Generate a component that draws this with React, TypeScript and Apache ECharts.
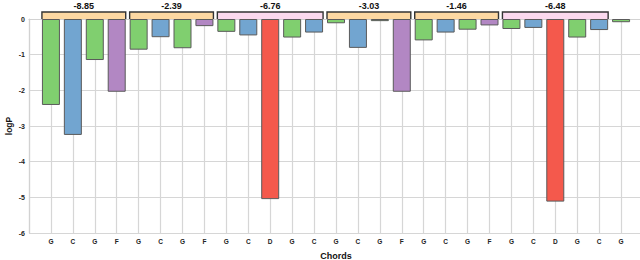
import React, { useEffect, useRef } from "react";
import * as echarts from "echarts";

const chords = ["G","C","G","F","G","C","G","F","G","C","D","G","C","G","C","G","F","G","C","G","F","G","C","D","G","C","G"];
const logP = [-2.41,-3.25,-1.15,-2.04,-0.86,-0.51,-0.82,-0.20,-0.36,-0.46,-5.05,-0.52,-0.38,-0.12,-0.81,-0.06,-2.04,-0.60,-0.38,-0.30,-0.18,-0.28,-0.25,-5.12,-0.52,-0.31,-0.09];
const groupStart = [0, 4, 8, 13, 17, 21];
const groupEnd = [3, 7, 12, 16, 20, 25];
const groupLabels = ["-8.85", "-2.39", "-6.76", "-3.03", "-1.46", "-6.48"];
const groupKind = ["o", "o", "p", "o", "o", "p"];
const yTicks = [0, -1, -2, -3, -4, -5, -6];

const chordColor: Record<string, string> = { G: "#80cf6f", C: "#72a5d0", F: "#b287c3", D: "#f4594c" };
const bracketFill: Record<string, string> = { o: "#fdd8a2", p: "#fbd9ee" };
const FONT = "'Liberation Sans', Arial, Helvetica, sans-serif";
const BAR_W = 18;

export default function App() {
  const ref = useRef<HTMLDivElement>(null);
  useEffect(() => {
    document.body.style.margin = "0";
    const chart = echarts.init(ref.current!, undefined, { renderer: "svg" });
    const cats = ["", ...chords, ""];
    const barData = [null, ...logP.map((v, i) => ({ value: v, itemStyle: { color: chordColor[chords[i]] } })), null];
    const groupData = groupStart.map((s, i) => [s + 1, groupEnd[i] + 1, 0]);
    chart.setOption({
      animation: false,
      grid: { left: 29, right: -3, top: 19, bottom: 27, containLabel: false, outerBoundsMode: "none" },
      xAxis: {
        type: "category",
        data: cats,
        boundaryGap: false,
        name: "Chords",
        nameLocation: "middle",
        nameGap: 18,
        nameMoveOverlap: false,
        nameTextStyle: { fontFamily: FONT, fontWeight: "bold", fontSize: 9, color: "#111" },
        axisLine: { show: true, lineStyle: { color: "#d2d2d2", width: 1.2 } },
        axisTick: { show: false },
        axisLabel: { interval: 0, margin: 5, fontFamily: FONT, fontWeight: "bold", fontSize: 6.5, color: "#222" },
        splitLine: { show: true, interval: 0, lineStyle: { color: "#d6d6d6", width: 1.2 } },
      },
      yAxis: {
        type: "value",
        min: -6,
        max: 0,
        interval: 1,
        name: "logP",
        nameLocation: "middle",
        nameGap: 16,
        nameMoveOverlap: false,
        nameTextStyle: { fontFamily: FONT, fontWeight: "bold", fontSize: 8.5, color: "#111" },
        axisLine: { show: true, lineStyle: { color: "#d2d2d2", width: 1.2 } },
        axisTick: { show: false },
        axisLabel: {
          margin: 4,
          fontFamily: FONT,
          fontWeight: "bold",
          fontSize: 7,
          color: "#222",
          formatter: (v: number) => (yTicks.includes(v) ? String(v) : ""),
        },
        splitLine: { show: true, lineStyle: { color: "#d6d6d6", width: 1.2 } },
      },
      series: [
        {
          type: "bar",
          data: barData,
          barWidth: BAR_W,
          itemStyle: { borderColor: "#5a5a5a", borderWidth: 1 },
        },
        {
          type: "custom",
          clip: false,
          data: groupData,
          encode: { x: [0, 1], y: 2 },
          z: 5,
          renderItem: (params: any, api: any) => {
            const i = params.dataIndex;
            const s = api.coord([api.value(0), 0]);
            const e = api.coord([api.value(1), 0]);
            const half = BAR_W / 2;
            const x0 = s[0] - half;
            const x1 = e[0] + half;
            const yb = s[1];
            const yt = yb - 7;
            return {
              type: "group",
              children: [
                { type: "rect", shape: { x: x0, y: yt, width: x1 - x0, height: yb - yt }, style: { fill: bracketFill[groupKind[i]] } },
                {
                  type: "polyline",
                  shape: { points: [[x0, yb], [x0, yt], [x1, yt], [x1, yb]] },
                  style: { stroke: "#333", lineWidth: 1.4, fill: null },
                },
                {
                  type: "text",
                  x: (x0 + x1) / 2,
                  y: yt - 6.5,
                  style: {
                    text: groupLabels[i],
                    fontFamily: FONT,
                    fontWeight: "bold",
                    fontSize: 9,
                    fill: "#111",
                    align: "center",
                    verticalAlign: "middle",
                  },
                },
              ],
            };
          },
        },
      ],
    });
    return () => chart.dispose();
  }, []);
  return <div ref={ref} style={{ width: 640, height: 260 }} />;
}
